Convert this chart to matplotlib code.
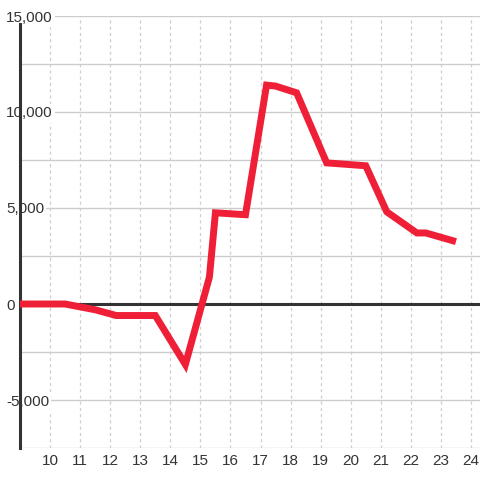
import matplotlib
matplotlib.use("Agg")
import matplotlib.pyplot as plt

# values
hours = [9, 10.5, 11, 11.5, 12.2, 13.5, 14.5, 15.3, 15.5, 16.5, 17.2, 17.5, 18.2, 19.2, 20.5, 21.2, 22.2, 22.5, 23.5]
values = [0, 0, -150, -300, -600, -600, -3150, 1400, 4750, 4650, 11400, 11350, 11000, 7350, 7200, 4800, 3700, 3700, 3250]

x_ticks = list(range(10, 25))
y_ticks = [-5000, 0, 5000, 10000, 15000]
y_minor = [-7500, -2500, 2500, 7500, 12500]

plt.rcParams['font.family'] = ['Liberation Sans', 'DejaVu Sans']

fig = plt.figure(figsize=(4.8, 4.8), dpi=100)
ax = fig.add_axes([20 / 480, 32 / 480, 460 / 480, 432 / 480])

ax.set_xlim(9, 24.3)
ax.set_ylim(-7500, 15000)

ax.plot(hours, values, color='#ee1f36', linewidth=5.0,
        solid_joinstyle='miter', solid_capstyle='butt', zorder=3)
ax.axhline(0, color='#333333', linewidth=2.2, zorder=2)

ax.set_xticks(x_ticks)
ax.set_yticks(y_ticks)
ax.set_yticks(y_minor, minor=True)
ax.set_yticklabels(['{:,}'.format(v) for v in y_ticks])

ax.grid(axis='y', which='both', color='#cccccc', linewidth=1.0, linestyle='-')
ax.grid(axis='x', color='#cfcfcf', linewidth=0.9, linestyle=(0, (2.5, 2.5)))
ax.set_axisbelow(True)

for side in ['top', 'right', 'bottom']:
    ax.spines[side].set_visible(False)
ax.spines['left'].set_color('#333333')
ax.spines['left'].set_linewidth(2.2)
ax.spines['left'].set_bounds(-7500, 14580)

ax.tick_params(axis='both', which='both', length=0, labelsize=11, labelcolor='#333333')
ax.tick_params(axis='x', pad=4)
ax.tick_params(axis='y', pad=10)
for lab in ax.get_yticklabels():
    lab.set_horizontalalignment('left')
    lab.set_bbox(dict(facecolor='white', edgecolor='none', pad=1.5))

fig.savefig('out.png', dpi=100)
